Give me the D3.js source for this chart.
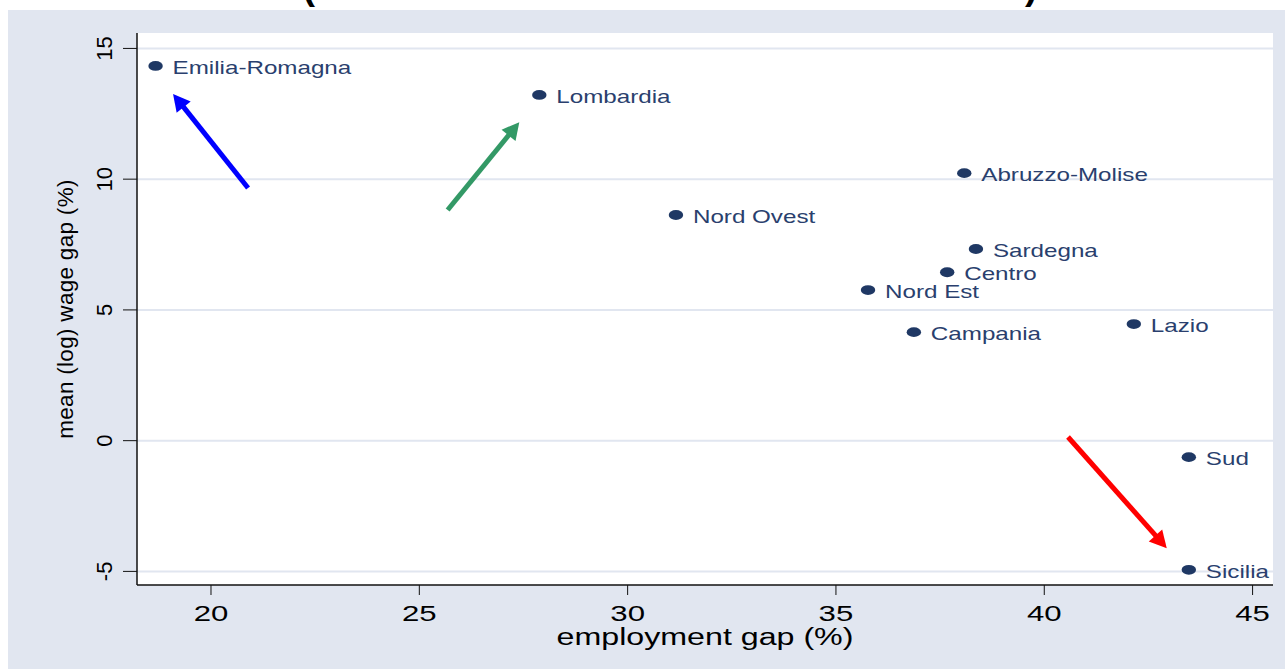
<!DOCTYPE html>
<html>
<head>
<meta charset="utf-8">
<script src="https://cdn.jsdelivr.net/npm/d3@7"></script>
<style>
  html, body { margin: 0; padding: 0; background: #fff; }
  svg { display: block; font-family: "Liberation Sans", Arial, sans-serif; }
</style>
</head>
<body>
<div id="chart"></div>
<script>
// Regions: employment gap (%) vs mean (log) wage gap (%)
const regions = ["Emilia-Romagna", "Lombardia", "Nord Ovest", "Abruzzo-Molise", "Sardegna",
  "Centro", "Nord Est", "Campania", "Lazio", "Sud", "Sicilia"];
const employmentGap = [18.67, 27.88, 31.16, 38.08, 38.36, 37.67, 35.77, 36.87, 42.15, 43.47, 43.47];
const wageGap = [14.33, 13.22, 8.63, 10.23, 7.33, 6.44, 5.76, 4.15, 4.46, -0.63, -4.94];

const xTicks = [20, 25, 30, 35, 40, 45];
const yTicks = [-5, 0, 5, 10, 15];

// Annotation arrows, in data units: [x tail, y tail] -> [x head, y head]
const arrowNames = ["blue", "green", "red"];
const arrowFrom = [[20.89, 9.66], [25.68, 8.82], [40.57, 0.14]];
const arrowTo = [[19.09, 13.26], [27.40, 12.18], [42.94, -4.11]];
const arrowColors = ["#0000ff", "#339966", "#ff0000"];

const width = 1285, height = 669;
const plot = { left: 137, right: 1273, top: 33, bottom: 585 };

const x = d3.scaleLinear().domain([18.224, 45.49]).range([plot.left, plot.right]);
const y = d3.scaleLinear().domain([-5.52, 15.59]).range([plot.bottom, plot.top]);

const navy = "#1f3864";
const labelColor = "#2a3f6e";

const svg = d3.select("#chart").append("svg")
  .attr("width", width)
  .attr("height", height);

// Graph region
svg.append("rect").attr("x", 8).attr("y", 10)
  .attr("width", width - 8).attr("height", height - 10)
  .attr("fill", "#e1e6f0");

// Title, mostly cut off above the frame
svg.append("text")
  .attr("x", 670).attr("y", -1)
  .attr("text-anchor", "middle")
  .attr("textLength", 735)
  .attr("lengthAdjust", "spacingAndGlyphs")
  .style("font-size", "38px")
  .style("font-weight", "bold")
  .style("fill", "#000")
  .text("(conditional on observed characteristics)");

// Plot region
svg.append("rect")
  .attr("x", plot.left).attr("y", plot.top)
  .attr("width", plot.right - plot.left).attr("height", plot.bottom - plot.top)
  .attr("fill", "#fff");

// Horizontal grid
yTicks.forEach((t) => {
  svg.append("line")
    .attr("x1", plot.left).attr("x2", plot.right)
    .attr("y1", y(t)).attr("y2", y(t))
    .attr("stroke", "#e1e6f0")
    .attr("stroke-width", 2);
});

// Axes lines
svg.append("line")
  .attr("x1", plot.left).attr("x2", plot.left)
  .attr("y1", plot.top).attr("y2", plot.bottom)
  .attr("stroke", "#111").attr("stroke-width", 1.5);
svg.append("line")
  .attr("x1", plot.left).attr("x2", plot.right)
  .attr("y1", plot.bottom).attr("y2", plot.bottom)
  .attr("stroke", "#111").attr("stroke-width", 1.5);

// Stretched horizontal text helper (the original is wider than plain Arial)
function wideText(px, py, sx, size, anchor, color, str) {
  return svg.append("text")
    .attr("transform", `translate(${px},${py}) scale(${sx},1)`)
    .attr("text-anchor", anchor)
    .style("font-size", size + "px")
    .style("fill", color)
    .text(str);
}

// X ticks + labels
xTicks.forEach((t) => {
  svg.append("line")
    .attr("x1", x(t)).attr("x2", x(t))
    .attr("y1", plot.bottom).attr("y2", plot.bottom + 10)
    .attr("stroke", "#111").attr("stroke-width", 1);
  wideText(x(t), 621, 1.45, 21.5, "middle", "#000", t);
});

// Y ticks + rotated labels
yTicks.forEach((t) => {
  svg.append("line")
    .attr("x1", plot.left - 14).attr("x2", plot.left)
    .attr("y1", y(t)).attr("y2", y(t))
    .attr("stroke", "#111").attr("stroke-width", 1);
  svg.append("text")
    .attr("transform", `translate(112,${y(t)}) rotate(-90)`)
    .attr("text-anchor", "middle")
    .style("font-size", "22px")
    .style("fill", "#000")
    .text(t);
});

// Axis titles
wideText((plot.left + plot.right) / 2, 645, 1.37, 23.5, "middle", "#000", "employment gap (%)");
svg.append("text")
  .attr("transform", `translate(73,${(plot.top + plot.bottom) / 2}) rotate(-90)`)
  .attr("text-anchor", "middle")
  .style("font-size", "22.5px")
  .style("letter-spacing", "0.3px")
  .style("fill", "#000")
  .text("mean (log) wage gap (%)");

// Arrows
arrowNames.forEach((name, i) => {
  const x0 = x(arrowFrom[i][0]), y0 = y(arrowFrom[i][1]);
  const x1 = x(arrowTo[i][0]), y1 = y(arrowTo[i][1]);
  const dx = x1 - x0, dy = y1 - y0;
  const len = Math.hypot(dx, dy);
  const ux = dx / len, uy = dy / len;
  const headLen = 17, headHalf = 9;
  const bx = x1 - ux * headLen, by = y1 - uy * headLen;
  svg.append("line")
    .attr("x1", x0).attr("y1", y0)
    .attr("x2", bx + ux * 2).attr("y2", by + uy * 2)
    .attr("stroke", arrowColors[i])
    .attr("stroke-width", 5);
  svg.append("path")
    .attr("d", `M${x1},${y1} L${bx - uy * headHalf},${by + ux * headHalf} L${bx + uy * headHalf},${by - ux * headHalf} Z`)
    .attr("fill", arrowColors[i]);
});

// Points + labels
regions.forEach((name, i) => {
  const px = x(employmentGap[i]), py = y(wageGap[i]);
  svg.append("ellipse")
    .attr("cx", px).attr("cy", py)
    .attr("rx", 7.2).attr("ry", 4.9)
    .attr("fill", navy);
  wideText(px + 17, py + 7.7, 1.3, 18.6, "start", labelColor, name);
});
</script>
</body>
</html>
